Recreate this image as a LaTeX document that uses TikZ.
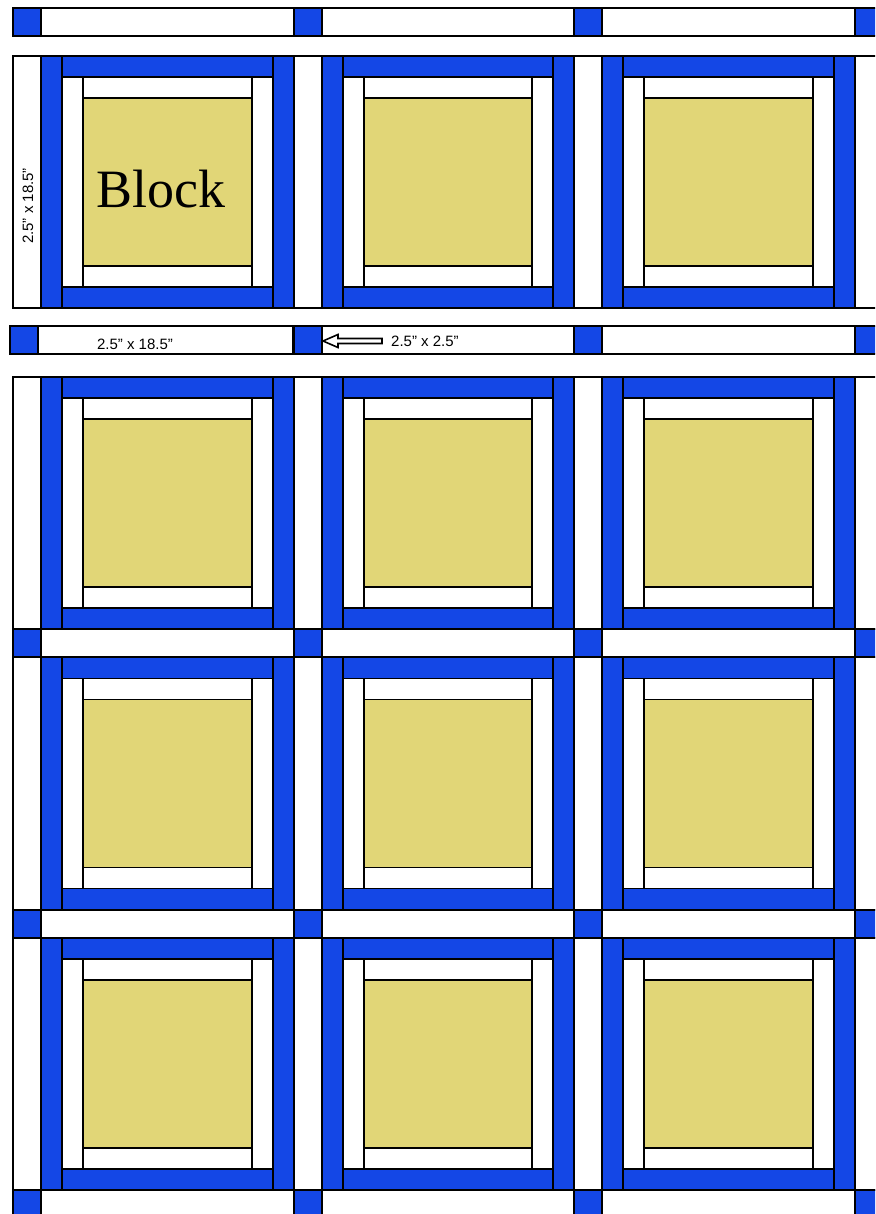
\documentclass[tikz,border=0pt]{standalone}
\usepackage{fontspec}
\setmainfont{Liberation Serif}
\newfontfamily\sizefont{Liberation Sans}
\usetikzlibrary{calc, positioning}
\definecolor{quiltblue}{HTML}{1447E6}
\definecolor{quiltyellow}{HTML}{E1D677}

\tikzset{
  piece/.style={draw=black, line width=1.8pt},
  bluepiece/.style={piece, fill=quiltblue},
  whitepiece/.style={piece, fill=white},
  centrepiece/.style={piece, fill=quiltyellow},
  sizelbl/.style={font=\sizefont\fontsize{15}{17}\selectfont, inner sep=0pt}
}

% One block: blue outer logs, white inner logs, yellow centre
\newcommand{\cabinblock}[2]{%
  \begin{scope}[shift={({#1},{#2})}]
    \draw[bluepiece] (0,0) rectangle (21,252);
    \draw[bluepiece] (231.67,0) rectangle (252.67,252);
    \draw[bluepiece] (21,0) rectangle (231.67,21);
    \draw[bluepiece] (21,231) rectangle (231.67,252);
    \draw[whitepiece] (21,21) rectangle (42,231);
    \draw[whitepiece] (210.67,21) rectangle (231.67,231);
    \draw[whitepiece] (42,21) rectangle (210.67,42);
    \draw[whitepiece] (42,210) rectangle (210.67,231);
    \draw[centrepiece] (42,42) rectangle (210.67,210);
  \end{scope}}

\begin{document}
\begin{tikzpicture}[x=1pt, y=-1pt]
\useasboundingbox (0,0) rectangle (875,1214);
\clip (0,0) rectangle (875,1214);

% Horizontal sashing rows with cornerstones
\foreach \sy in {8,629,910,1190} {
  \foreach \k in {0,...,3} {
    \draw[bluepiece] ({13+\k*280.67},\sy) rectangle ++(28,28);
    \draw[whitepiece] ({41+\k*280.67},\sy) rectangle ++(252.67,28);
  }
}

% Second sashing row (slightly shifted at the left)
\draw[bluepiece] (10,326) rectangle (38,354);
\draw[whitepiece] (38,326) rectangle (292.7,354);
\foreach \k in {1,...,3} {
  \draw[bluepiece] ({13+\k*280.67},326) rectangle ++(28,28);
  \draw[whitepiece] ({41+\k*280.67},326) rectangle ++(252.67,28);
}

% Block rows with vertical sashing
\foreach \by in {56,377,657.5,938} {
  \foreach \k in {0,...,3}
    \draw[whitepiece] ({13+\k*280.67},\by) rectangle ++(28,252);
  \foreach \k in {0,...,2}
    \cabinblock{41+\k*280.67}{\by};
}

% Labels
\node[anchor=base west, inner sep=0pt, font=\fontsize{54}{62}\selectfont] (blocklbl) at (96,208) {Block};
\node[sizelbl, rotate=90] (sidelbl) at (28,206) {2.5” x 18.5”};
\node[sizelbl, anchor=base] (striplbl) at (135,349) {2.5” x 18.5”};
\node[sizelbl, anchor=base west] (cornerlbl) at (391,346) {2.5” x 2.5”};

% Hollow arrow pointing to the cornerstone
\coordinate (arrowtip) at (323,341);
\draw[line width=1.6pt, fill=white] (arrowtip) -- ++(15,-6.5) -- ++(0,4) -- ++(44,0)
  -- ++(0,5) -- ++(-44,0) -- ++(0,4) -- cycle;

\end{tikzpicture}
\end{document}
